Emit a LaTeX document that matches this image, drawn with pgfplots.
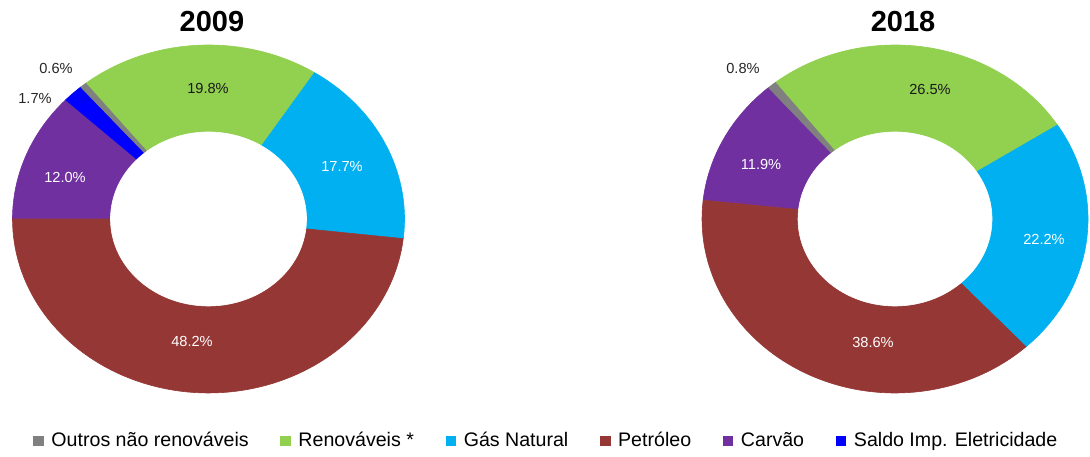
\documentclass[border=0pt]{standalone}
\usepackage{pgfplots}
\pgfplotsset{compat=1.18}
\usepackage{fontspec}
\setmainfont{Liberation Sans}
\definecolor{cOutros}{HTML}{808080}
\definecolor{cRenov}{HTML}{92D050}
\definecolor{cGas}{HTML}{00B0F0}
\definecolor{cPetro}{HTML}{953735}
\definecolor{cCarvao}{HTML}{7030A0}
\definecolor{cSaldo}{HTML}{0000FF}

% slice: #1 value (%), #2 colour
\newcommand\slice[2]{%
  \pgfmathsetmacro\sa{\curang}%
  \pgfmathsetmacro\sb{\curang+3.6*#1}%
  \edef\doslice{\noexpand\addplot[forget plot, fill=#2, draw=#2, line width=0.3pt,
      domain=\sa:\sb, samples=90, variable=\noexpand\t]
      ({\cx+\Rx*sin(\noexpand\t)},{\cy+\Ry*cos(\noexpand\t)}) -- (axis cs:\cx,\cy) -- cycle;}%
  \doslice
  \xdef\curang{\sb}%
}
\newcommand\hole{%
  \edef\dohole{\noexpand\addplot[forget plot, fill=white, draw=white, line width=0.3pt,
      domain=0:360, samples=160, variable=\noexpand\t]
      ({\cx+\rx*sin(\noexpand\t)},{\cy+\ry*cos(\noexpand\t)}) -- cycle;}%
  \dohole
}

\begin{document}
\begin{tikzpicture}
\begin{axis}[
  x=0.5pt, y=0.5pt,
  xmin=0, xmax=1090, ymin=0, ymax=454,
  hide axis, clip=false,
  legend columns=6,
  legend style={at={(axis cs:547,13)}, anchor=center, draw=none, fill=none,
    font=\fontsize{9.8}{12}\selectfont,
    /tikz/every odd column/.style={column sep=2.2pt},
    /tikz/every even column/.style={column sep=14.3pt},
    nodes={inner sep=1.6pt}},
  legend cell align=left,
]
\path (axis cs:0,0) rectangle (axis cs:1090,454);

% ---------- 2009 ----------
\gdef\cx{208.5}\gdef\cy{235}\gdef\Rx{196}\gdef\Ry{174}\gdef\rx{98}\gdef\ry{87}
\xdef\curang{270}
\slice{12.0}{cCarvao}
\slice{1.7}{cSaldo}
\slice{0.6}{cOutros}
\slice{19.8}{cRenov}
\slice{17.7}{cGas}
\slice{48.2}{cPetro}
\hole

% ---------- 2018 ----------
\gdef\cx{895}\gdef\cy{235}\gdef\Rx{193}\gdef\Ry{174}\gdef\rx{97}\gdef\ry{87}
\xdef\curang{276.2}
\slice{11.9}{cCarvao}
\slice{0.8}{cOutros}
\slice{26.5}{cRenov}
\slice{22.2}{cGas}
\slice{38.6}{cPetro}
\hole

% titles
\node[font=\fontsize{14.5}{16}\selectfont\bfseries] at (axis cs:212,432) {2009};
\node[font=\fontsize{14.5}{16}\selectfont\bfseries] at (axis cs:903,432) {2018};

% labels
\begin{scope}[every node/.style={font=\fontsize{7.3}{9}\selectfont}]
\node[text=black!85] at (axis cs:56,386) {0.6\%};
\node[text=black!85] at (axis cs:35,356) {1.7\%};
\node[text=black!90] at (axis cs:208,366) {19.8\%};
\node[text=white] at (axis cs:342,288) {17.7\%};
\node[text=white] at (axis cs:65,277) {12.0\%};
\node[text=white] at (axis cs:192,113) {48.2\%};
\node[text=black!85] at (axis cs:743,386) {0.8\%};
\node[text=black!90] at (axis cs:930,365) {26.5\%};
\node[text=white] at (axis cs:761,290) {11.9\%};
\node[text=white] at (axis cs:1044,215) {22.2\%};
\node[text=white] at (axis cs:873,112) {38.6\%};
\end{scope}

% legend
\pgfplotsset{legsq/.style={draw=none, legend image code/.code={\path[##1] (0pt,-2.6pt) rectangle (5.2pt,2.6pt);}}}
\addlegendimage{legsq, fill=cOutros}\addlegendentry{Outros não renováveis}
\addlegendimage{legsq, fill=cRenov}\addlegendentry{Renováveis *}
\addlegendimage{legsq, fill=cGas}\addlegendentry{Gás Natural}
\addlegendimage{legsq, fill=cPetro}\addlegendentry{Petróleo}
\addlegendimage{legsq, fill=cCarvao}\addlegendentry{Carvão}
\addlegendimage{legsq, fill=cSaldo}\addlegendentry{Saldo Imp. Eletricidade}
\end{axis}
\end{tikzpicture}
\end{document}
